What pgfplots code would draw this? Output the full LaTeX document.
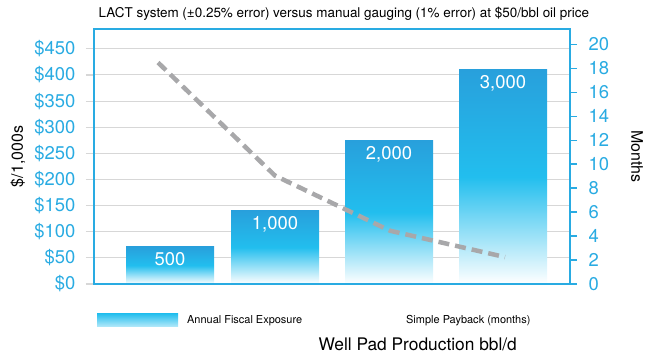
\documentclass[border=0pt]{standalone}
\usepackage{fontspec}
\setmainfont{TeX Gyre Heros}
\usepackage{pgfplots}
\pgfplotsset{compat=1.18}
\definecolor{axcyan}{RGB}{41,171,226}
\definecolor{bartop}{RGB}{40,160,220}
\definecolor{barmid}{RGB}{34,190,238}
\definecolor{dashgray}{RGB}{168,168,170}
\definecolor{gridgray}{RGB}{215,215,215}
\pgfplotsset{
  shbar/.style={ybar, bar width=88, bar shift=0pt, draw=none, top color=bartop, bottom color=white, middle color=barmid,
    nodes near coords, point meta=explicit symbolic,
    nodes near coords align={below},
    every node near coord/.append style={text=white, font=\fontsize{18.5}{18.5}\selectfont, yshift=-2bp}},
}
\begin{document}
\begin{tikzpicture}
\useasboundingbox (0bp,0bp) rectangle (650bp,360bp);
\begin{axis}[
  at={(94bp,76bp)}, anchor=south west,
  scale only axis, width=476bp, height=255bp,
  xmin=94, xmax=570, ymin=0, ymax=488,
  xtick=\empty,
  ytick={0,50,...,450},
  yticklabels={\$0,\$50,\$100,\$150,\$200,\$250,\$300,\$350,\$400,\$450},
  ytick pos=left, tick align=outside, major tick length=8bp,
  ytick style={gridgray, line width=1.2bp},
  ymajorgrids, grid style={gridgray, line width=1bp},
  axis line style={axcyan, line width=1.6bp},
  yticklabel style={text=axcyan, font=\fontsize{18.5}{18.5}\selectfont, xshift=-7bp},
  ylabel={\$/1,000s},
  every axis y label/.style={at={(axis description cs:0,0.5)}, xshift=-76bp, anchor=center, rotate=90, font=\fontsize{16}{16}\selectfont},
  xlabel={Well Pad Production bbl/d},
  every axis x label/.style={at={(axis description cs:0.68,0)}, yshift=-60bp, anchor=center, font=\fontsize{17.4}{17.4}\selectfont},
  title={LACT system (±0.25\% error) versus manual gauging (1\% error) at \$50/bbl oil price},
  every axis title/.style={at={(axis description cs:0.525,1)}, yshift=15bp, anchor=center, font=\fontsize{13.5}{14}\selectfont},
]
\addplot[shbar] table[meta=label] {
x y label
170 71 500
};
\addplot[shbar] table[meta=label] {
x y label
275 140 1,000
};
\addplot[shbar] table[meta=label] {
x y label
389 274 2,000
};
\addplot[shbar] table[meta=label] {
x y label
503 410 3,000
};
\end{axis}
\begin{axis}[
  at={(94bp,76bp)}, anchor=south west,
  scale only axis, width=476bp, height=255bp,
  xmin=94, xmax=570, ymin=0, ymax=21.3,
  xtick=\empty, ytick pos=right,
  ytick={0,2,...,20},
  tick align=outside, major tick length=7bp,
  ytick style={axcyan, line width=1.6bp},
  axis line style={axcyan, line width=1.6bp},
  /pgf/number format/assume math mode=true,
  yticklabel style={text=axcyan, font=\fontsize{18.5}{18.5}\selectfont, xshift=8bp},
  ylabel={Months},
  every axis y label/.style={at={(axis description cs:1,0.5)}, xshift=67bp, anchor=center, rotate=-90, font=\fontsize{16}{16}\selectfont},
  legend style={draw=none, fill=none, at={(axis description cs:0,0)}, anchor=north west, yshift=-27bp,
    legend columns=2, font=\fontsize{11}{13}\selectfont,
    /tikz/every even column/.append style={column sep=100bp}},
  legend cell align=left,
]
\addlegendimage{draw=none, legend image code/.code={\path[draw=none, top color=barmid, bottom color=barmid!35] (0bp,-6.5bp) rectangle (81bp,6.5bp) (88bp,0bp);}}
\addlegendentry{Annual Fiscal Exposure}
\addlegendimage{draw=none, legend image code/.code={}}
\addlegendentry{Simple Payback (months)}
\addplot[forget plot, dashgray, line width=4.5bp, dash pattern=on 11bp off 6bp] coordinates {(158,18.5) (275,9.05) (390,4.45) (505,2.25)};
\end{axis}
\end{tikzpicture}
\end{document}
